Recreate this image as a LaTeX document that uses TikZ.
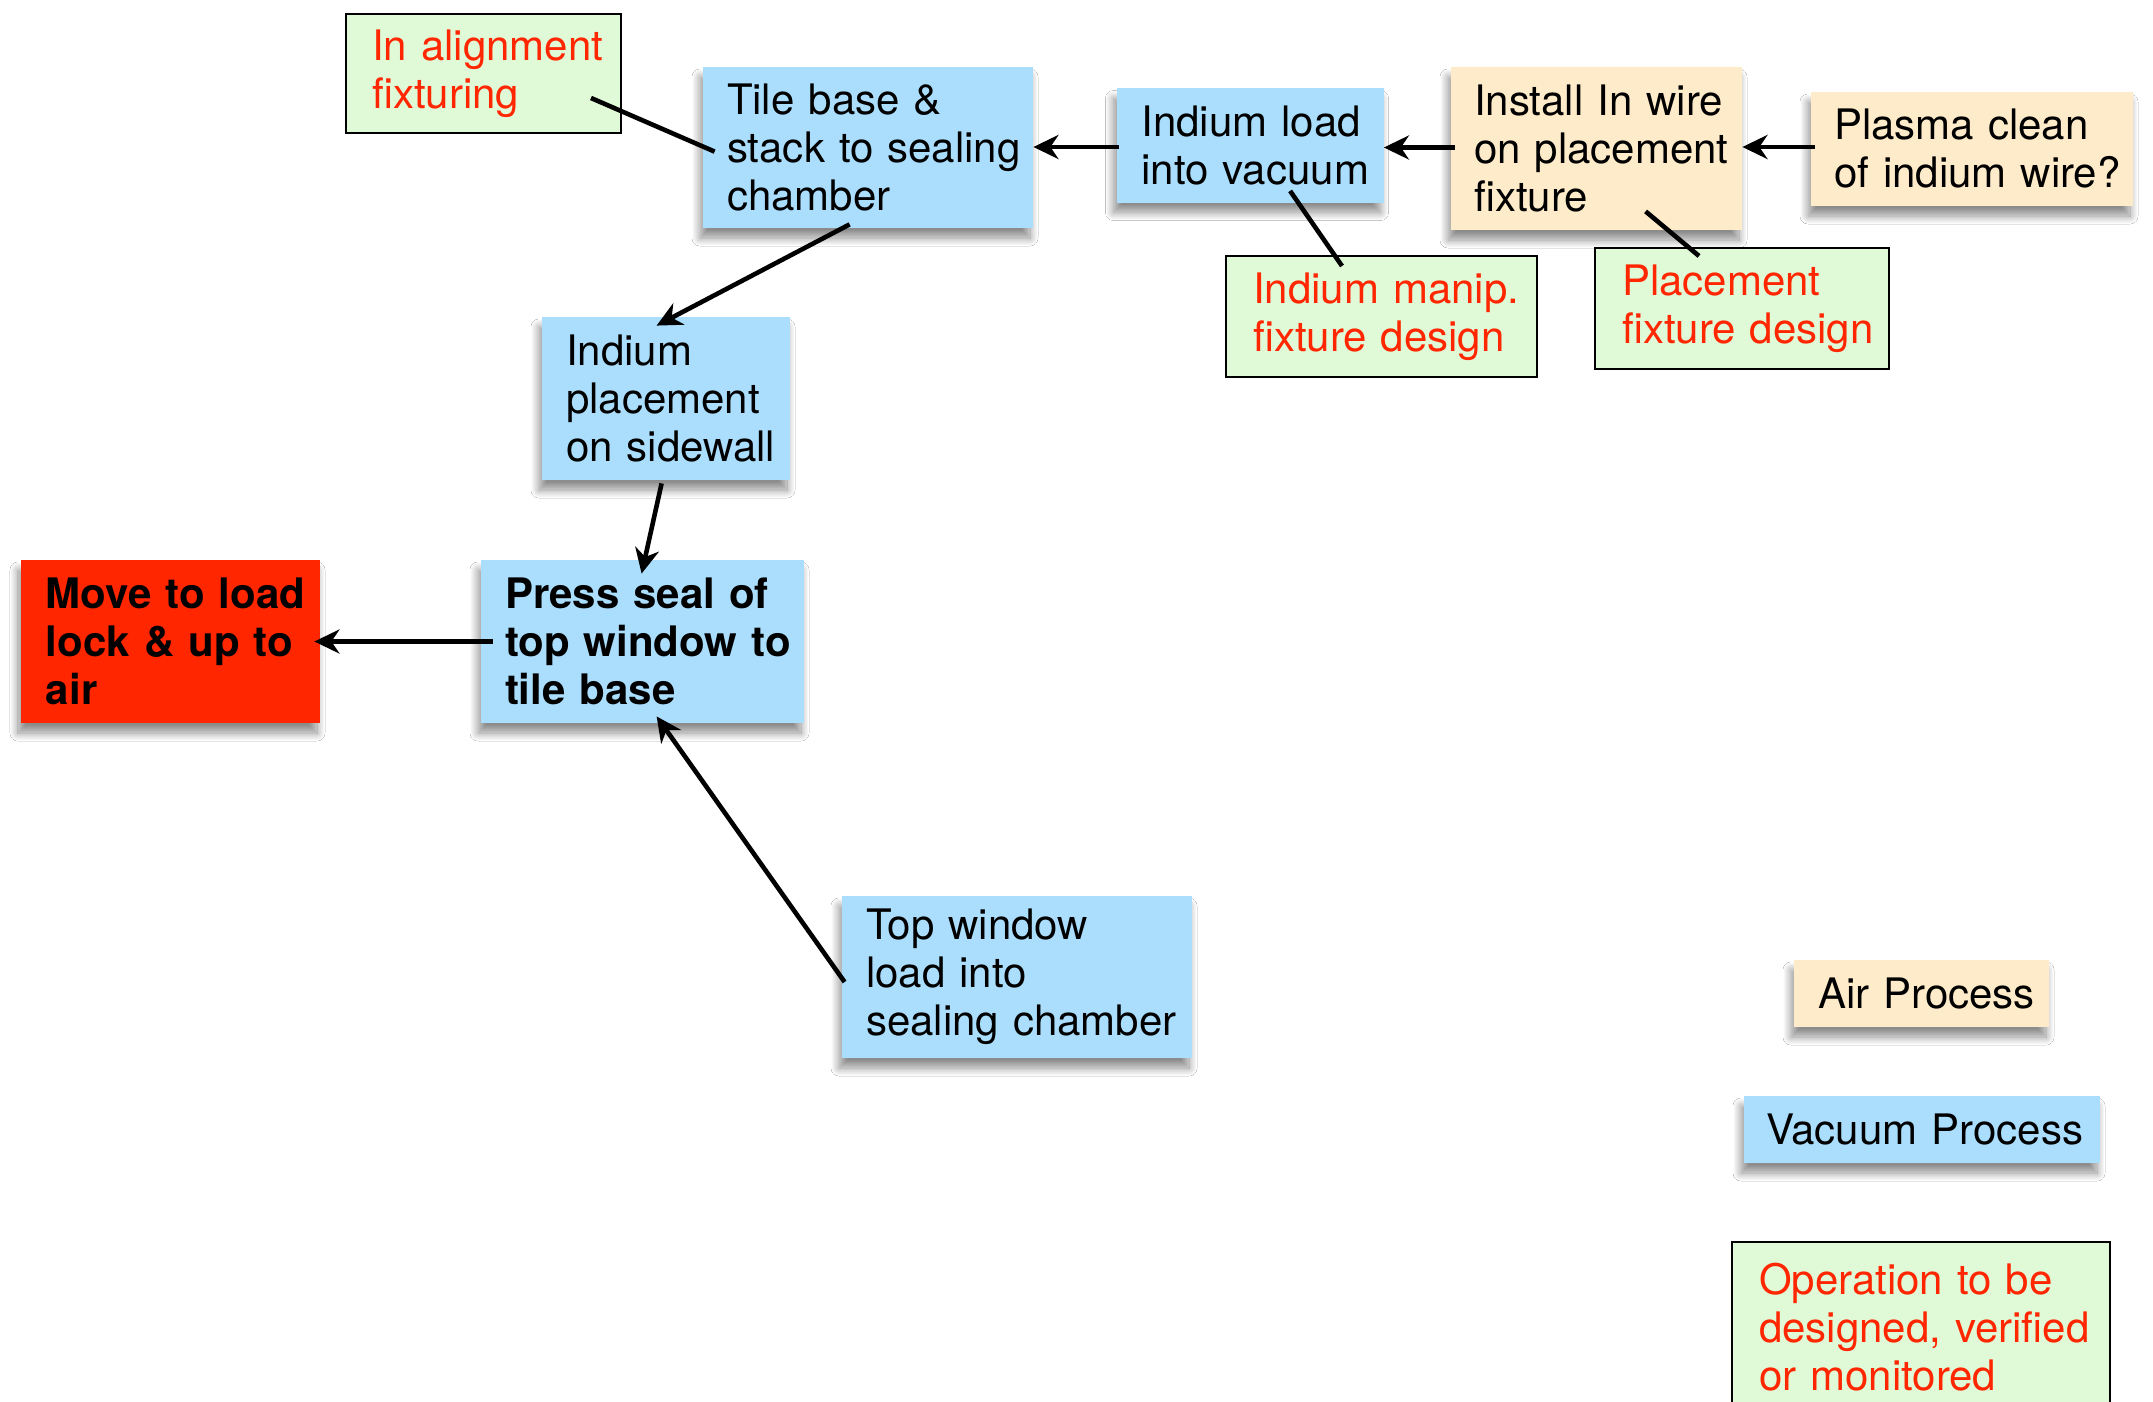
\documentclass[tikz,border=0pt]{standalone}
\usepackage{fontspec}
\setmainfont{TeX Gyre Heros}
\usetikzlibrary{calc,arrows.meta,shadows.blur}
\definecolor{vblue}{RGB}{170,222,252}
\definecolor{atan}{RGB}{254,235,201}
\definecolor{ngreen}{RGB}{224,250,215}
\definecolor{sred}{RGB}{255,38,0}
\newcommand\fs{\fontsize{21}{24}\selectfont}
\newcommand\bx[2]{\leftskip=#1\rightskip=0pt plus 1fil\relax #2\par}
\tikzset{
  proc/.style={rectangle, inner sep=0pt, align=left, font=\fs,
    blur shadow={shadow xshift=-1.5pt, shadow yshift=-5pt, shadow blur radius=4pt, shadow blur steps=20, shadow opacity=45}},
  vac/.style={proc, fill=vblue},
  air/.style={proc, fill=atan},
  stopbox/.style={proc, fill=sred, font=\fs\bfseries},
  note/.style={rectangle, inner sep=0pt, align=left, font=\fs, fill=ngreen, draw=black, line width=1pt, text=sred},
  arr/.style={line width=2.3pt, -{Stealth[length=12.5pt,width=12pt,inset=4pt]}},
  lnk/.style={line width=2.3pt},
}
\begin{document}
\begin{tikzpicture}[x=0.5pt,y=-0.5pt]
\useasboundingbox (0,0) rectangle (2153,1402);
\clip (0,0) rectangle (2153,1402);
\fill[white] (0,0) rectangle (2153,1402);

% process nodes
\node[note, text width=137.5pt, minimum height=59.5pt] (align) at (483.5,73.5) {\bx{13pt}{In alignment\\fixturing}};
\node[vac, text width=165pt, minimum height=80.5pt] (tile) at (868,147.5) {\bx{12pt}{Tile base \&\\stack to sealing\\chamber}};
\node[vac, text width=133.5pt, minimum height=57pt] (inload) at (1250,145.5) {\bx{12.5pt}{Indium load\\into vacuum}};
\node[air, text width=145.5pt, minimum height=81.5pt] (install) at (1596.5,148.5) {\bx{11.5pt}{Install In wire\\on placement\\fixture}};
\node[air, text width=161pt, minimum height=57pt] (plasma) at (1972,149) {\bx{11.5pt}{Plasma clean\\of indium wire?}};
\node[note, text width=155.5pt, minimum height=60.5pt] (manip) at (1381.5,316.5) {\bx{13.5pt}{Indium manip.\\fixture design}};
\node[note, text width=147pt, minimum height=60.5pt] (placefix) at (1742,308.5) {\bx{13.5pt}{Placement\\fixture design}};
\node[vac, text width=124pt, minimum height=81.5pt] (sideplace) at (666,398.5) {\bx{12pt}{Indium\\placement\\on sidewall}};
\node[vac, font=\fs\bfseries, text width=161.5pt, minimum height=81.5pt] (press) at (642.5,641.5) {\bx{12pt}{Press seal of\\top window to\\tile base}};
\node[stopbox, text width=149.5pt, minimum height=81.5pt] (moveair) at (170.5,641.5) {\bx{12.5pt}{Move to load\\lock \& up to\\air}};
\node[vac, text width=175pt, minimum height=81pt] (topwin) at (1017,977) {\bx{12pt}{Top window\\load into\\sealing chamber}};

% legend
\node[air, text width=127.5pt, minimum height=33.5pt] (legair) at (1921.5,993.5) {\bx{12pt}{Air Process}};
\node[vac, text width=178pt, minimum height=33.5pt] (legvac) at (1922,1129.5) {\bx{11pt}{Vacuum Process}};
\node[note, text width=189pt, minimum height=85pt] (legop) at (1921,1327) {\bx{13.5pt}{Operation to be\\designed, verified\\or monitored}};

% connectors
\draw[lnk] ($(align.north east)+(-31,85)$) -- ($(tile.north west)+(12,85)$);
\draw[arr] ($(inload.west)+(3,1.5)$) -- ($(tile.east)+(0,-0.5)$);
\draw[arr] ($(install.west)+(4,-1)$) -- ($(install.west -| inload.east)+(0,-1)$);
\draw[arr] ($(plasma.west)+(4,-2)$) -- ($(plasma.west -| install.east)+(0,-2)$);
\draw[lnk] ($(inload.south west)+(174,-12)$) -- ($(manip.north west)+(117,11)$);
\draw[lnk] ($(install.south west)+(195,-19)$) -- ($(placefix.north west)+(105,9)$);
\draw[arr] ($(tile.south west)+(147,-4)$) -- ($(sideplace.north west)+(115,9)$);
\draw[arr] ($(sideplace.south west)+(120,3)$) -- ($(press.north west)+(161,14)$);
\draw[arr] ($(press.west)+(12,0)$) -- ($(moveair.east)+(-6,0)$);
\draw[arr] ($(topwin.west)+(3,5)$) -- ($(press.south west)+(176,-7)$);
\end{tikzpicture}
\end{document}
